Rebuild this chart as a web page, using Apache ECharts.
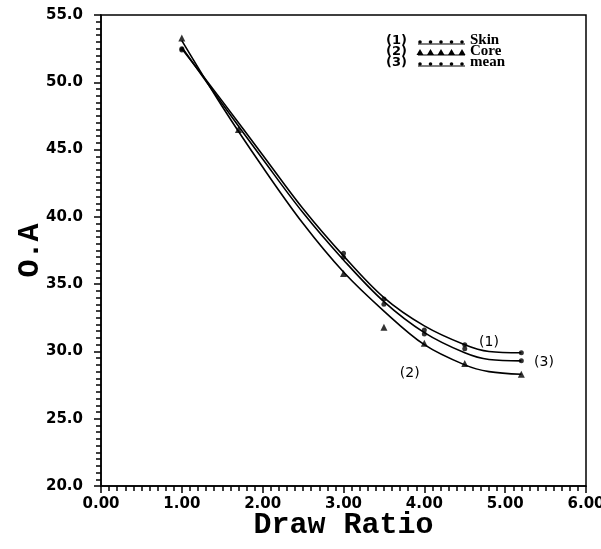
<!DOCTYPE html>
<html><head><meta charset="utf-8">
<script src="https://cdn.jsdelivr.net/npm/echarts@6/dist/echarts.min.js"></script>
<style>html,body{margin:0;padding:0;background:#fff}#c{width:601px;height:549px}</style>
</head><body><div id="c"></div>
<script>
// fitted curves
const curveX    = [1.0, 1.5, 2.0, 2.5, 3.0, 3.5, 4.0, 4.5, 4.8, 5.2];
const skinCurve = [52.5, 48.6, 44.6, 40.6, 37.1, 34.0, 31.9, 30.5, 30.0, 29.9];
const meanCurve = [52.6, 48.4, 44.3, 40.3, 36.8, 33.7, 31.4, 29.9, 29.4, 29.3];
const coreCurve = [53.1, 48.2, 43.7, 39.5, 35.9, 33.0, 30.5, 29.0, 28.5, 28.3];
// measured points
const skinX = [1.0, 3.0, 3.5, 4.0, 4.5, 5.2];
const skinY = [52.4, 37.3, 33.9, 31.6, 30.5, 29.9];
const meanX = [1.0, 3.0, 3.5, 4.0, 4.5, 5.2];
const meanY = [52.5, 37.0, 33.5, 31.3, 30.2, 29.3];
const coreX = [1.0, 1.7, 3.0, 3.5, 4.0, 4.5, 5.2];
const coreY = [53.3, 46.5, 35.8, 31.8, 30.6, 29.1, 28.3];
const seriesNames = ['Skin', 'Core', 'mean'];
const curveTags = ['(1)', '(2)', '(3)'];
const tagX = [4.8, 3.82, 5.48];
const tagY = [30.7, 28.4, 29.2];

const zip = (a, b) => a.map((v, i) => [v, b[i]]);
const tickFont = {fontFamily: 'DejaVu Sans', fontWeight: 'bold', fontSize: 15, color: '#000'};
const titleFont = {fontFamily: 'Liberation Mono', fontWeight: 'bold', fontSize: 30, color: '#000'};

function curve(data, idx) {
  return {
    type: 'line', data: data, showSymbol: false, smooth: 0.35,
    lineStyle: {color: '#000', width: 1.6}, silent: true, z: 2,
    markPoint: {
      symbol: 'circle', symbolSize: 2, silent: true,
      itemStyle: {color: 'rgba(0,0,0,0)'},
      label: {show: true, position: 'inside', formatter: curveTags[idx],
        fontFamily: 'DejaVu Sans', fontSize: 14, color: '#000'},
      data: [{coord: [tagX[idx], tagY[idx]]}]
    }
  };
}
function pts(data, sym, size) {
  return {type: 'scatter', data: data, symbol: sym, symbolSize: size,
    itemStyle: {color: '#000'}, z: 3, silent: true};
}

const legendRows = [41, 52, 63];
const graphic = [];
legendRows.forEach((y, i) => {
  graphic.push({type: 'text', left: 386, top: y - 7,
    style: {text: curveTags[i], font: 'bold 13px "DejaVu Sans"', fill: '#000'}});
  graphic.push({type: 'line', shape: {x1: 418, y1: y + 3, x2: 465, y2: y + 3},
    style: {stroke: '#000', lineWidth: 1.2}});
  for (let k = 0; k < 5; k++) {
    const cx = 420 + k * 10.5;
    if (i === 1) {
      graphic.push({type: 'polygon', shape: {points: [[cx, y - 3], [cx - 3.5, y + 3], [cx + 3.5, y + 3]]},
        style: {fill: '#000'}});
    } else {
      graphic.push({type: 'circle', shape: {cx: cx, cy: y + 1, r: 1.8}, style: {fill: '#000'}});
    }
  }
  graphic.push({type: 'text', left: 470, top: y - 8,
    style: {text: seriesNames[i], font: 'bold 15px "Liberation Serif"', fill: '#000'}});
});

const chart = echarts.init(document.getElementById('c'), null, {renderer: 'canvas'});
chart.setOption({
  animation: false,
  backgroundColor: '#fff',
  grid: {left: 101, right: 15, top: 15, bottom: 63, show: true, borderColor: '#000', borderWidth: 1.5,
    containLabel: false, outerBoundsMode: 'none'},
  xAxis: {
    type: 'value', min: 0, max: 6, interval: 1,
    name: 'Draw Ratio', nameLocation: 'middle', nameGap: 24, nameMoveOverlap: false, nameTextStyle: titleFont,
    axisLine: {lineStyle: {color: '#000', width: 1.5}},
    axisTick: {show: true, length: 7, lineStyle: {color: '#000', width: 1.5}},
    minorTick: {show: true, splitNumber: 10, length: 5, lineStyle: {color: '#000', width: 1.5}},
    splitLine: {show: false},
    axisLabel: {...tickFont, margin: 11, formatter: v => v.toFixed(2)}
  },
  yAxis: {
    type: 'value', min: 20, max: 55, interval: 5,
    name: 'O.A', nameLocation: 'middle', nameGap: 56, nameMoveOverlap: false, nameRotate: 90, nameTextStyle: titleFont,
    axisLine: {lineStyle: {color: '#000', width: 1.5}},
    axisTick: {show: true, length: 7, lineStyle: {color: '#000', width: 1.5}},
    minorTick: {show: true, splitNumber: 10, length: 5, lineStyle: {color: '#000', width: 1.5}},
    splitLine: {show: false},
    axisLabel: {...tickFont, margin: 18, formatter: v => v.toFixed(1)}
  },
  graphic: graphic,
  series: [
    curve(zip(curveX, skinCurve), 0),
    curve(zip(curveX, coreCurve), 1),
    curve(zip(curveX, meanCurve), 2),
    pts(zip(skinX, skinY), 'circle', 5),
    pts(zip(coreX, coreY), 'triangle', 7),
    pts(zip(meanX, meanY), 'circle', 5)
  ]
});
</script></body></html>
